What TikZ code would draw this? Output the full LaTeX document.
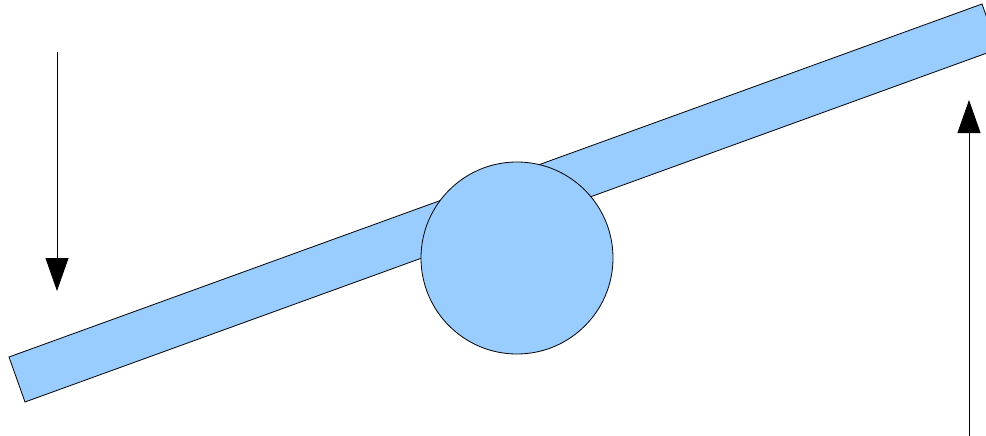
\documentclass[tikz,border=0pt]{standalone}
\usetikzlibrary{arrows.meta}
\definecolor{lblue}{HTML}{99CCFF}
\tikzset{
  part/.style={fill=lblue,draw=black,line width=0.8pt},
  force/.style={draw=black,line width=0.8pt,-{Triangle[width=23pt,length=33pt]}}
}
\begin{document}
\begin{tikzpicture}[x=1pt,y=-1pt]
\useasboundingbox (0,0) rectangle (986,436);
\clip (0,0) rectangle (986,436);
\draw[part] (9,357) -- (25,402) -- (998,49) -- (982,4) -- cycle;
\node[part,circle,minimum size=192pt,inner sep=0pt] (pivot) at (517,258) {};
\coordinate (lstart) at (57,52);
\coordinate (lend) at (57,291);
\draw[force] (lstart) -- (lend);
\coordinate (rstart) at (969,440);
\coordinate (rend) at (969,100);
\draw[force] (rstart) -- (rend);
\end{tikzpicture}
\end{document}
